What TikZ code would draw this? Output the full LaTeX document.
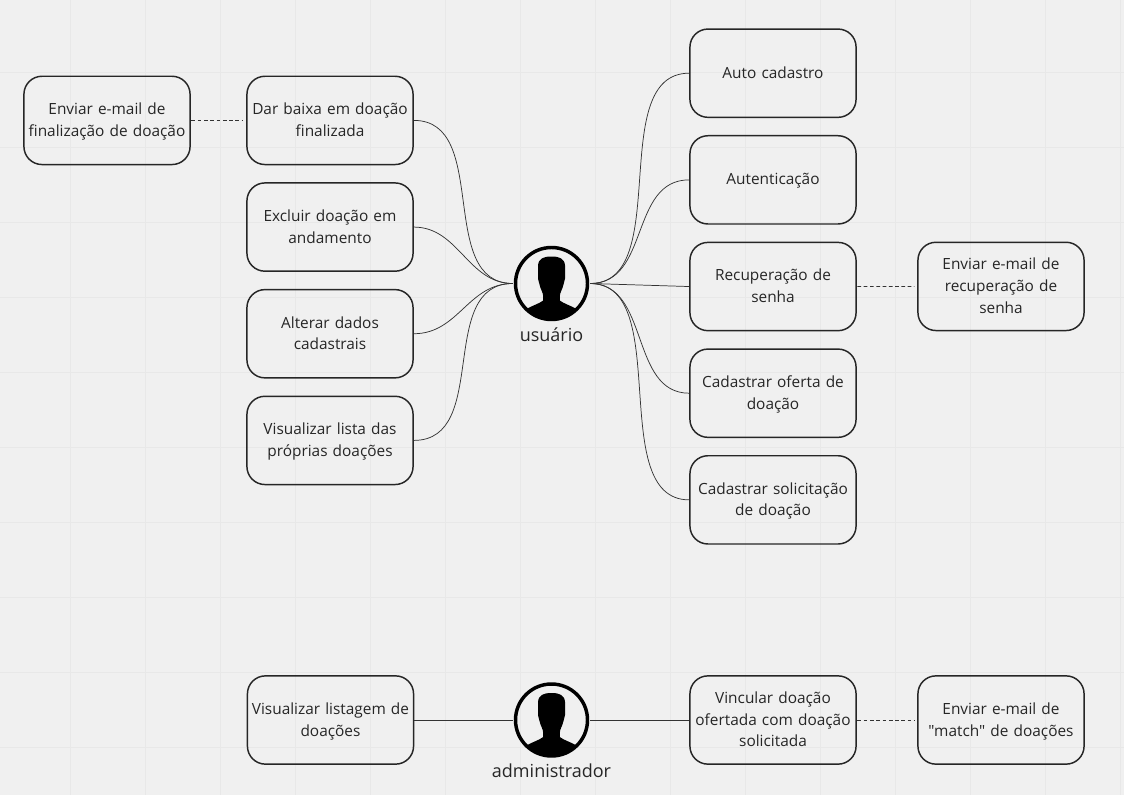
\documentclass[tikz,border=0pt]{standalone}
\usepackage{fontspec}
\setmainfont{Open Sans}[Ligatures=TeXOff]
\usetikzlibrary{positioning}
\definecolor{boardbg}{HTML}{F0F0F0}
\definecolor{boardgrid}{HTML}{E8E8E8}
\definecolor{ink}{HTML}{262626}
\definecolor{wire}{HTML}{333333}
\begin{document}
\begin{tikzpicture}[
		x=0.75pt, y=-0.75pt,
		node distance=12.7pt,
		block/.style={draw=ink, line width=1.1pt, rounded corners=13.5pt, minimum width=124.6pt, minimum height=66.2pt, text width=122pt, align=center, inner sep=0pt, font=\fontsize{11.55}{16.3}\selectfont, text=ink, execute at begin node={\rule{0pt}{12.5pt}}, execute at end node={\rule[-4.8pt]{0pt}{4.8pt}}},
		actor/.style={circle, draw=black, line width=2.6pt, minimum size=54pt, inner sep=0pt, outer sep=2pt,
			path picture={
				\fill[black, shift={(path picture bounding box.center)}]
					(0,-27) .. controls (-8,-27) and (-13,-25) .. (-13.5,-18)
					-- (-13.5,-5) .. controls (-13.5,-3) and (-12.3,-2) .. (-12,1)
					.. controls (-11,6) and (-8.3,9) .. (-8.3,13)
					-- (-8.3,17) .. controls (-12,20) and (-19,22) .. (-24,25)
					-- (-26,40) -- (26,40) -- (24,25)
					.. controls (19,22) and (12,20) .. (8.3,17)
					-- (8.3,13) .. controls (8.3,9) and (11,6) .. (12,1)
					.. controls (12.3,-2) and (13.5,-3) .. (13.5,-5)
					-- (13.5,-18) .. controls (13,-25) and (8,-27) .. (0,-27) -- cycle;
			}},
		actorname/.style={font=\fontsize{13.5}{16}\selectfont, text=ink, inner sep=0pt},
		branch/.style={draw=wire, line width=0.55pt},
		note/.style={draw=wire, line width=0.55pt, dash pattern=on 2.8pt off 1.9pt, shorten <=0.5pt, shorten >=2.2pt},
	]
		\fill[boardbg] (0,0) rectangle (1124,795);
		\useasboundingbox (0,0) rectangle (1124,795);
		\foreach \gx in {70.7,145.7,...,1121} \draw[boardgrid, line width=0.75pt] (\gx,0) -- (\gx,795);
		\foreach \gy in {72.5,147.5,...,748} \draw[boardgrid, line width=0.75pt] (0,\gy) -- (1124,\gy);

		\node[actor] (usuario) at (551.5,283.5) {};
		\node[actorname] (usuariotxt) at (551.5,335) {usuário};
		\node[actor] (admin) at (551.5,720) {};
		\node[actorname] (admintxt) at (551.5,770.5) {administrador};

		\node[block] (auto) at (773,73.2) {Auto cadastro};
		\node[block, below=of auto] (autent) {Autenticação};
		\node[block, below=of autent] (recup) {Recuperação de\\senha};
		\node[block, below=of recup] (oferta) {Cadastrar oferta de\\doação};
		\node[block, below=of oferta] (solic) {Cadastrar solicitação\\de doação};
		\node[block] (mailrecup) at (1001,286.4) {Enviar e-mail de\\recuperação de\\senha};

		\node[block] (baixa) at (330,120.4) {Dar baixa em doação\\finalizada};
		\node[block, below=of baixa] (excluir) {Excluir doação em\\andamento};
		\node[block, below=of excluir] (alterar) {Alterar dados\\cadastrais};
		\node[block, below=of alterar] (lista) {Visualizar lista das\\próprias doações};
		\node[block] (mailfim) at (107,120.4) {Enviar e-mail de\\finalização de doação};

		\node[block] (listagem) at (330.5,720) {Visualizar listagem de\\doações};
		\node[block] (vincular) at (773,720) {Vincular doação\\ofertada com doação\\solicitada};
		\node[block] (mailmatch) at (1001,720) {Enviar e-mail de\\"match" de doações};

		\draw[branch] (usuario.east) .. controls +(84,0) and +(-84,0) .. (auto.west);
		\draw[branch] (usuario.east) .. controls +(60,0) and +(-60,0) .. (autent.west);
		\draw[branch] (usuario.east) -- (recup.west);
		\draw[branch] (usuario.east) .. controls +(60,0) and +(-60,0) .. (oferta.west);
		\draw[branch] (usuario.east) .. controls +(84,0) and +(-84,0) .. (solic.west);

		\draw[branch] (usuario.west) .. controls +(-77,0) and +(77,0) .. (baixa.east);
		\draw[branch] (usuario.west) .. controls +(-45,0) and +(45,0) .. (excluir.east);
		\draw[branch] (usuario.west) .. controls +(-45,0) and +(45,0) .. (alterar.east);
		\draw[branch] (usuario.west) .. controls +(-77,0) and +(77,0) .. (lista.east);

		\draw[branch] (admin.west) -- (listagem.east);
		\draw[branch] (admin.east) -- (vincular.west);

		\draw[note] (mailfim) -- (baixa);
		\draw[note] (recup) -- (mailrecup);
		\draw[note] (vincular) -- (mailmatch);
	\end{tikzpicture}
\end{document}
